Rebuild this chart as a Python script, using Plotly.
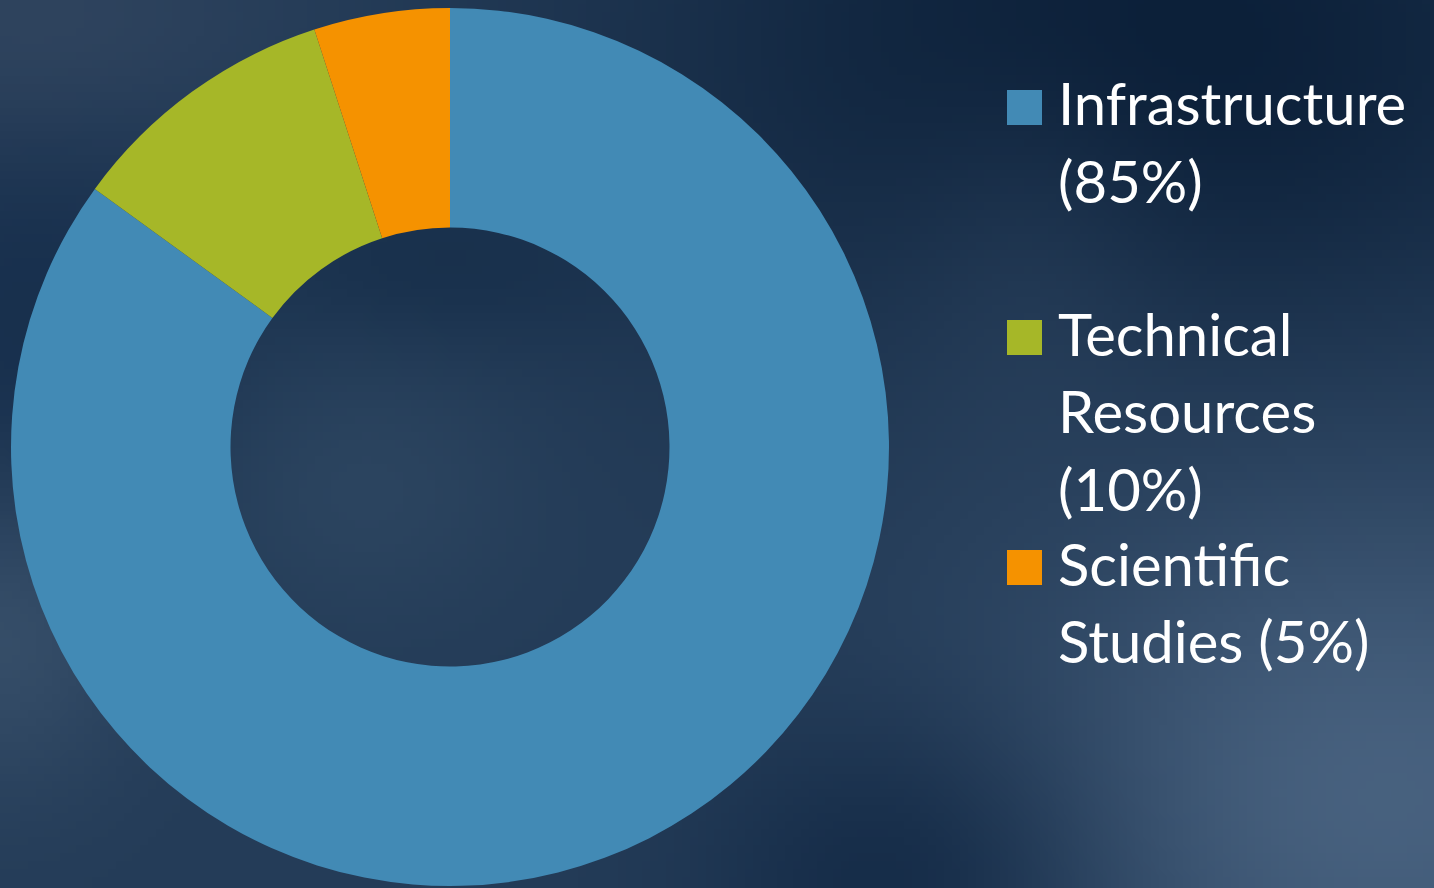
import base64, struct, zlib
import numpy as np
import plotly.graph_objects as go

# ---- data ----
labels = ["Infrastructure", "Technical Resources", "Scientific Studies"]
values = [85, 10, 5]
colors = ["#428ab5", "#a6b728", "#f59200"]
legend_lines = [["Infrastructure", "(85%)"],
                ["Technical", "Resources", "(10%)"],
                ["Scientific", "Studies (5%)"]]

W, H = 1434, 888

# ---- background image (soft dark-blue gradient) ----
def make_bg(w=180, h=112):
    yy, xx = np.mgrid[0:h, 0:w]
    x = xx / (w - 1)
    y = yy / (h - 1)
    img = np.zeros((h, w, 3)) + np.array([36, 60, 88], float)
    blobs = [
        # (cx, cy, rx, ry, color, strength)
        (0.80, 0.05, 0.35, 0.35, (11, 31, 56), 1.0),
        (0.02, 0.38, 0.14, 0.28, (22, 46, 76), 0.9),
        (0.97, 0.90, 0.28, 0.35, (78, 104, 134), 0.85),
        (0.02, 0.02, 0.18, 0.14, (50, 70, 96), 0.8),
        (0.00, 0.72, 0.10, 0.18, (62, 86, 112), 0.7),
        (0.62, 1.00, 0.14, 0.20, (14, 36, 64), 0.7),
        (0.30, 0.30, 0.14, 0.10, (20, 44, 72), 0.7),
        (0.25, 0.55, 0.12, 0.16, (52, 78, 104), 0.5),
        (0.72, 0.35, 0.10, 0.25, (48, 72, 100), 0.4),
    ]
    for cx, cy, rx, ry, c, s in blobs:
        wgt = s * np.exp(-(((x - cx) / rx) ** 2 + ((y - cy) / ry) ** 2))
        img = img * (1 - wgt[..., None]) + np.array(c, float) * wgt[..., None]
    img = np.clip(img, 0, 255).astype(np.uint8)
    raw = b"".join(b"\x00" + img[r].tobytes() for r in range(h))
    def chunk(t, d):
        return struct.pack(">I", len(d)) + t + d + struct.pack(">I", zlib.crc32(t + d) & 0xffffffff)
    png = b"\x89PNG\r\n\x1a\n" + chunk(b"IHDR", struct.pack(">IIBBBBB", w, h, 8, 2, 0, 0, 0)) \
        + chunk(b"IDAT", zlib.compress(raw, 9)) + chunk(b"IEND", b"")
    return "data:image/png;base64," + base64.b64encode(png).decode()

fig = go.Figure()
fig.add_trace(go.Pie(
    labels=labels, values=values, hole=0.5, sort=False,
    direction="clockwise", rotation=0,
    marker=dict(colors=colors, line=dict(width=0)),
    textinfo="none", hoverinfo="label+percent", showlegend=False,
    domain=dict(x=[11 / W, 889 / W], y=[2 / H, 880 / H]),
))

# ---- custom legend (large squares and wrapped text) ----
shapes, annotations = [], []
font = dict(family="Lato, 'Open Sans', sans-serif", size=58, color="white")
entry_top = 125      # baseline of first line (px from top)
entry_step = 230
line_step = 77.5
for i, (lines, col) in enumerate(zip(legend_lines, colors)):
    base0 = entry_top + entry_step * i
    shapes.append(dict(type="rect", xref="paper", yref="paper",
                       x0=1007 / W, x1=1042 / W,
                       y0=1 - base0 / H, y1=1 - (base0 - 35) / H,
                       fillcolor=col, line=dict(width=0), layer="above"))
    for j, txt in enumerate(lines):
        bl = base0 + line_step * j
        annotations.append(dict(text=txt, xref="paper", yref="paper",
                                x=1056 / W, y=1 - (bl - 22) / H,
                                xanchor="left", yanchor="middle",
                                showarrow=False, font=font))

fig.update_layout(
    width=W, height=H,
    margin=dict(l=0, r=0, t=0, b=0),
    paper_bgcolor="#243c58", plot_bgcolor="#243c58",
    images=[dict(source=make_bg(), xref="paper", yref="paper", x=0, y=1,
                 sizex=1, sizey=1, sizing="stretch", layer="below",
                 xanchor="left", yanchor="top")],
    shapes=shapes, annotations=annotations,
)

fig.write_html("out.html", config={"displayModeBar": False},
               post_script="document.body.style.margin='0';document.body.style.background='#243c58';")
